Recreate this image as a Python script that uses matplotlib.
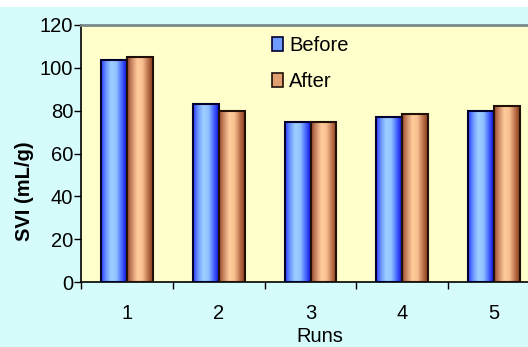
import numpy as np
import matplotlib
matplotlib.use("Agg")
import matplotlib.pyplot as plt
from matplotlib.colors import LinearSegmentedColormap
from matplotlib.patches import Patch, Rectangle

runs = ["1", "2", "3", "4", "5"]
before = [103.6, 83.2, 74.7, 77.2, 79.8]
after = [105.2, 79.8, 74.6, 78.6, 82.2]
yticks = [0, 20, 40, 60, 80, 100, 120]

plt.rcParams['font.family'] = ['Liberation Sans', 'DejaVu Sans']
FS = 14.5

fig = plt.figure(figsize=(5.28, 3.47), dpi=100, facecolor="#D5FBFB")
# white band at the top
fig.patches.append(Rectangle((0, 1 - 7/347), 1, 7/347, transform=fig.transFigure,
                             facecolor="white", edgecolor="none", zorder=0))

ax = fig.add_axes([81/528, 65/347, 459/528, 257/347])
ax.set_facecolor("#FFFFCC")

blue_cmap = LinearSegmentedColormap.from_list(
    "b", ["#2A3CFF", "#6F9BFF", "#A0D0FF", "#90C0FF", "#4A6AFF", "#1010E0"])
orange_cmap = LinearSegmentedColormap.from_list(
    "o", ["#9A4A2A", "#D08F6A", "#FFCC99", "#F8C090", "#C07850", "#8A3A1A"])

x = np.arange(len(runs))
w = 0.283
grad = np.linspace(0, 1, 64).reshape(1, -1)

def gbar(xs, vals, cmap, edge):
    bars = ax.bar(xs, vals, width=w, color="none", edgecolor=edge, linewidth=1.5, zorder=3)
    for b in bars:
        x0, y0 = b.get_x(), b.get_y()
        im = ax.imshow(grad, cmap=cmap, extent=(x0, x0 + b.get_width(), y0, y0 + b.get_height()),
                       aspect="auto", zorder=2, interpolation="bilinear")
        im.set_clip_path(b)
    return bars

gbar(x - w/2, before, blue_cmap, "#000030")
gbar(x + w/2, after, orange_cmap, "#201008")

ax.set_xlim(-0.5, len(runs) - 0.5)
ax.set_ylim(0, 120)
ax.set_yticks(yticks)
ax.set_yticklabels([str(v) for v in yticks], fontsize=FS)
ax.tick_params(axis="y", direction="out", length=5, width=1, pad=0.5, colors="black")
ax.set_xticks(x)
ax.set_xticklabels(runs, fontsize=FS)
ax.set_xticks(np.arange(-0.5, len(runs), 1.0), minor=True)
ax.tick_params(axis="x", which="major", length=0, pad=16)
ax.tick_params(axis="x", which="minor", direction="out", length=5, width=1)

for s in ["left", "bottom"]:
    ax.spines[s].set_color("black")
    ax.spines[s].set_linewidth(1.2)
ax.spines["top"].set_color("#7A8A8A")
ax.spines["top"].set_linewidth(2)
ax.spines["right"].set_visible(False)

fig.text(25/528, 1 - 191/347, "SVI (mL/g)", rotation=90, ha="center", va="center",
         fontsize=FS, fontweight="bold")
fig.text(320/528, 4.5/347, "Runs", ha="center", va="baseline", fontsize=FS)

handles = [Patch(facecolor="#6F9BFF", edgecolor="#000030", linewidth=1.2),
           Patch(facecolor="#E0A070", edgecolor="#201008", linewidth=1.2)]
fig.legend(handles, ["Before", "After"], loc="upper left",
           bbox_to_anchor=(272/528, 1 - 36/347), frameon=False, fontsize=FS,
           handlelength=0.55, handleheight=0.65, handletextpad=0.3,
           labelspacing=0.85, borderpad=0, borderaxespad=0)

fig.savefig("out.png", dpi=100, facecolor=fig.get_facecolor())
